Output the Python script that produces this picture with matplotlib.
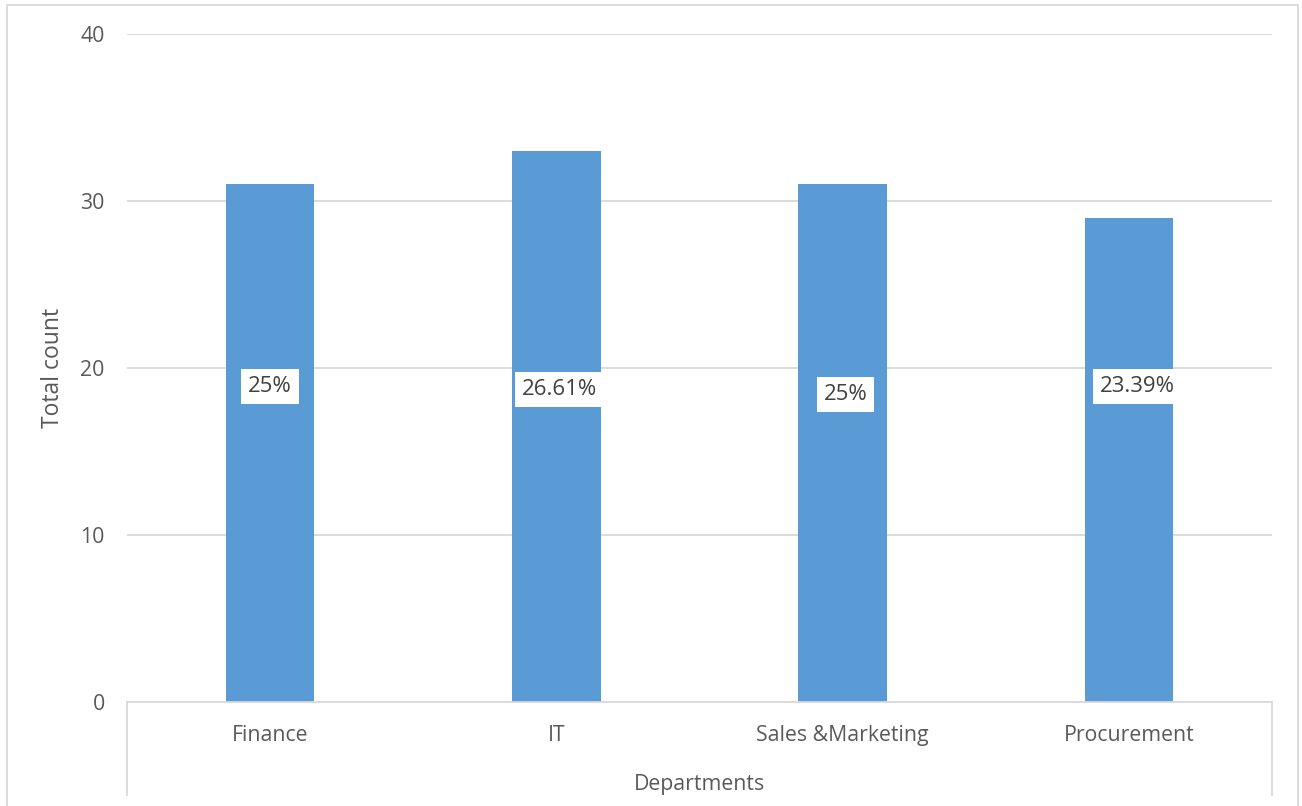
import matplotlib.pyplot as plt
from matplotlib.lines import Line2D
from matplotlib.patches import Rectangle

# data
departments = ['Finance', 'IT', 'Sales &Marketing', 'Procurement']
counts = [31, 33, 31, 29]
pct_labels = ['25%', '26.61%', '25%', '23.39%']

# where the data labels sit (hand placed in the original)
label_y = [18.9, 18.7, 18.4, 18.9]
label_dx = [0.0, 0.01, 0.01, 0.03]

plt.rcParams['font.family'] = ['Open Sans', 'DejaVu Sans']

bar_color = '#5B9BD5'
grid_color = '#D9D9D9'
text_color = '#595959'

fig = plt.figure(figsize=(13.02, 8.06), dpi=100)
ax = fig.add_axes([127 / 1302, 1 - 702 / 806, (1272 - 127) / 1302, (702 - 34) / 806])

xpos = list(range(len(departments)))
ax.bar(xpos, counts, width=0.31, color=bar_color, zorder=2)

for x, y, dx, txt in zip(xpos, label_y, label_dx, pct_labels):
    ax.text(x + dx, y, txt, ha='center', va='center', fontsize=16,
            color='#404040', zorder=3,
            bbox=dict(boxstyle='square,pad=0.32', fc='white', ec='none'))

ax.set_xlim(-0.5, len(departments) - 0.5)
ax.set_ylim(0, 40)
ax.set_yticks([0, 10, 20, 30, 40])
ax.set_xticks(xpos)
ax.set_xticklabels(departments)
ax.yaxis.grid(True, color=grid_color, linewidth=1.3, zorder=0)
ax.set_axisbelow(True)

for side in ['top', 'right', 'left']:
    ax.spines[side].set_visible(False)
ax.spines['bottom'].set_color(grid_color)
ax.spines['bottom'].set_linewidth(1.3)

ax.tick_params(axis='both', length=0, labelsize=15.3, labelcolor=text_color)
ax.tick_params(axis='x', pad=16.5)
ax.tick_params(axis='y', pad=16)

ax.set_ylabel('Total count', fontsize=16.5, color=text_color, labelpad=11)
ax.set_xlabel('Departments', fontsize=15.3, color=text_color, labelpad=20)

# category axis box edges below the plot
drop = (795 - 702) / (702 - 34)
for xa in (0, 1):
    ax.add_line(Line2D([xa, xa], [0, -drop], transform=ax.transAxes,
                       color=grid_color, linewidth=1.3, clip_on=False))

# chart frame
fig.patches.append(Rectangle((7 / 1302, -0.05), (1298 - 7) / 1302, 1 - 5 / 806 + 0.05,
                             transform=fig.transFigure, fill=False,
                             edgecolor=grid_color, linewidth=1.3))

fig.savefig('out.png', dpi=100)
